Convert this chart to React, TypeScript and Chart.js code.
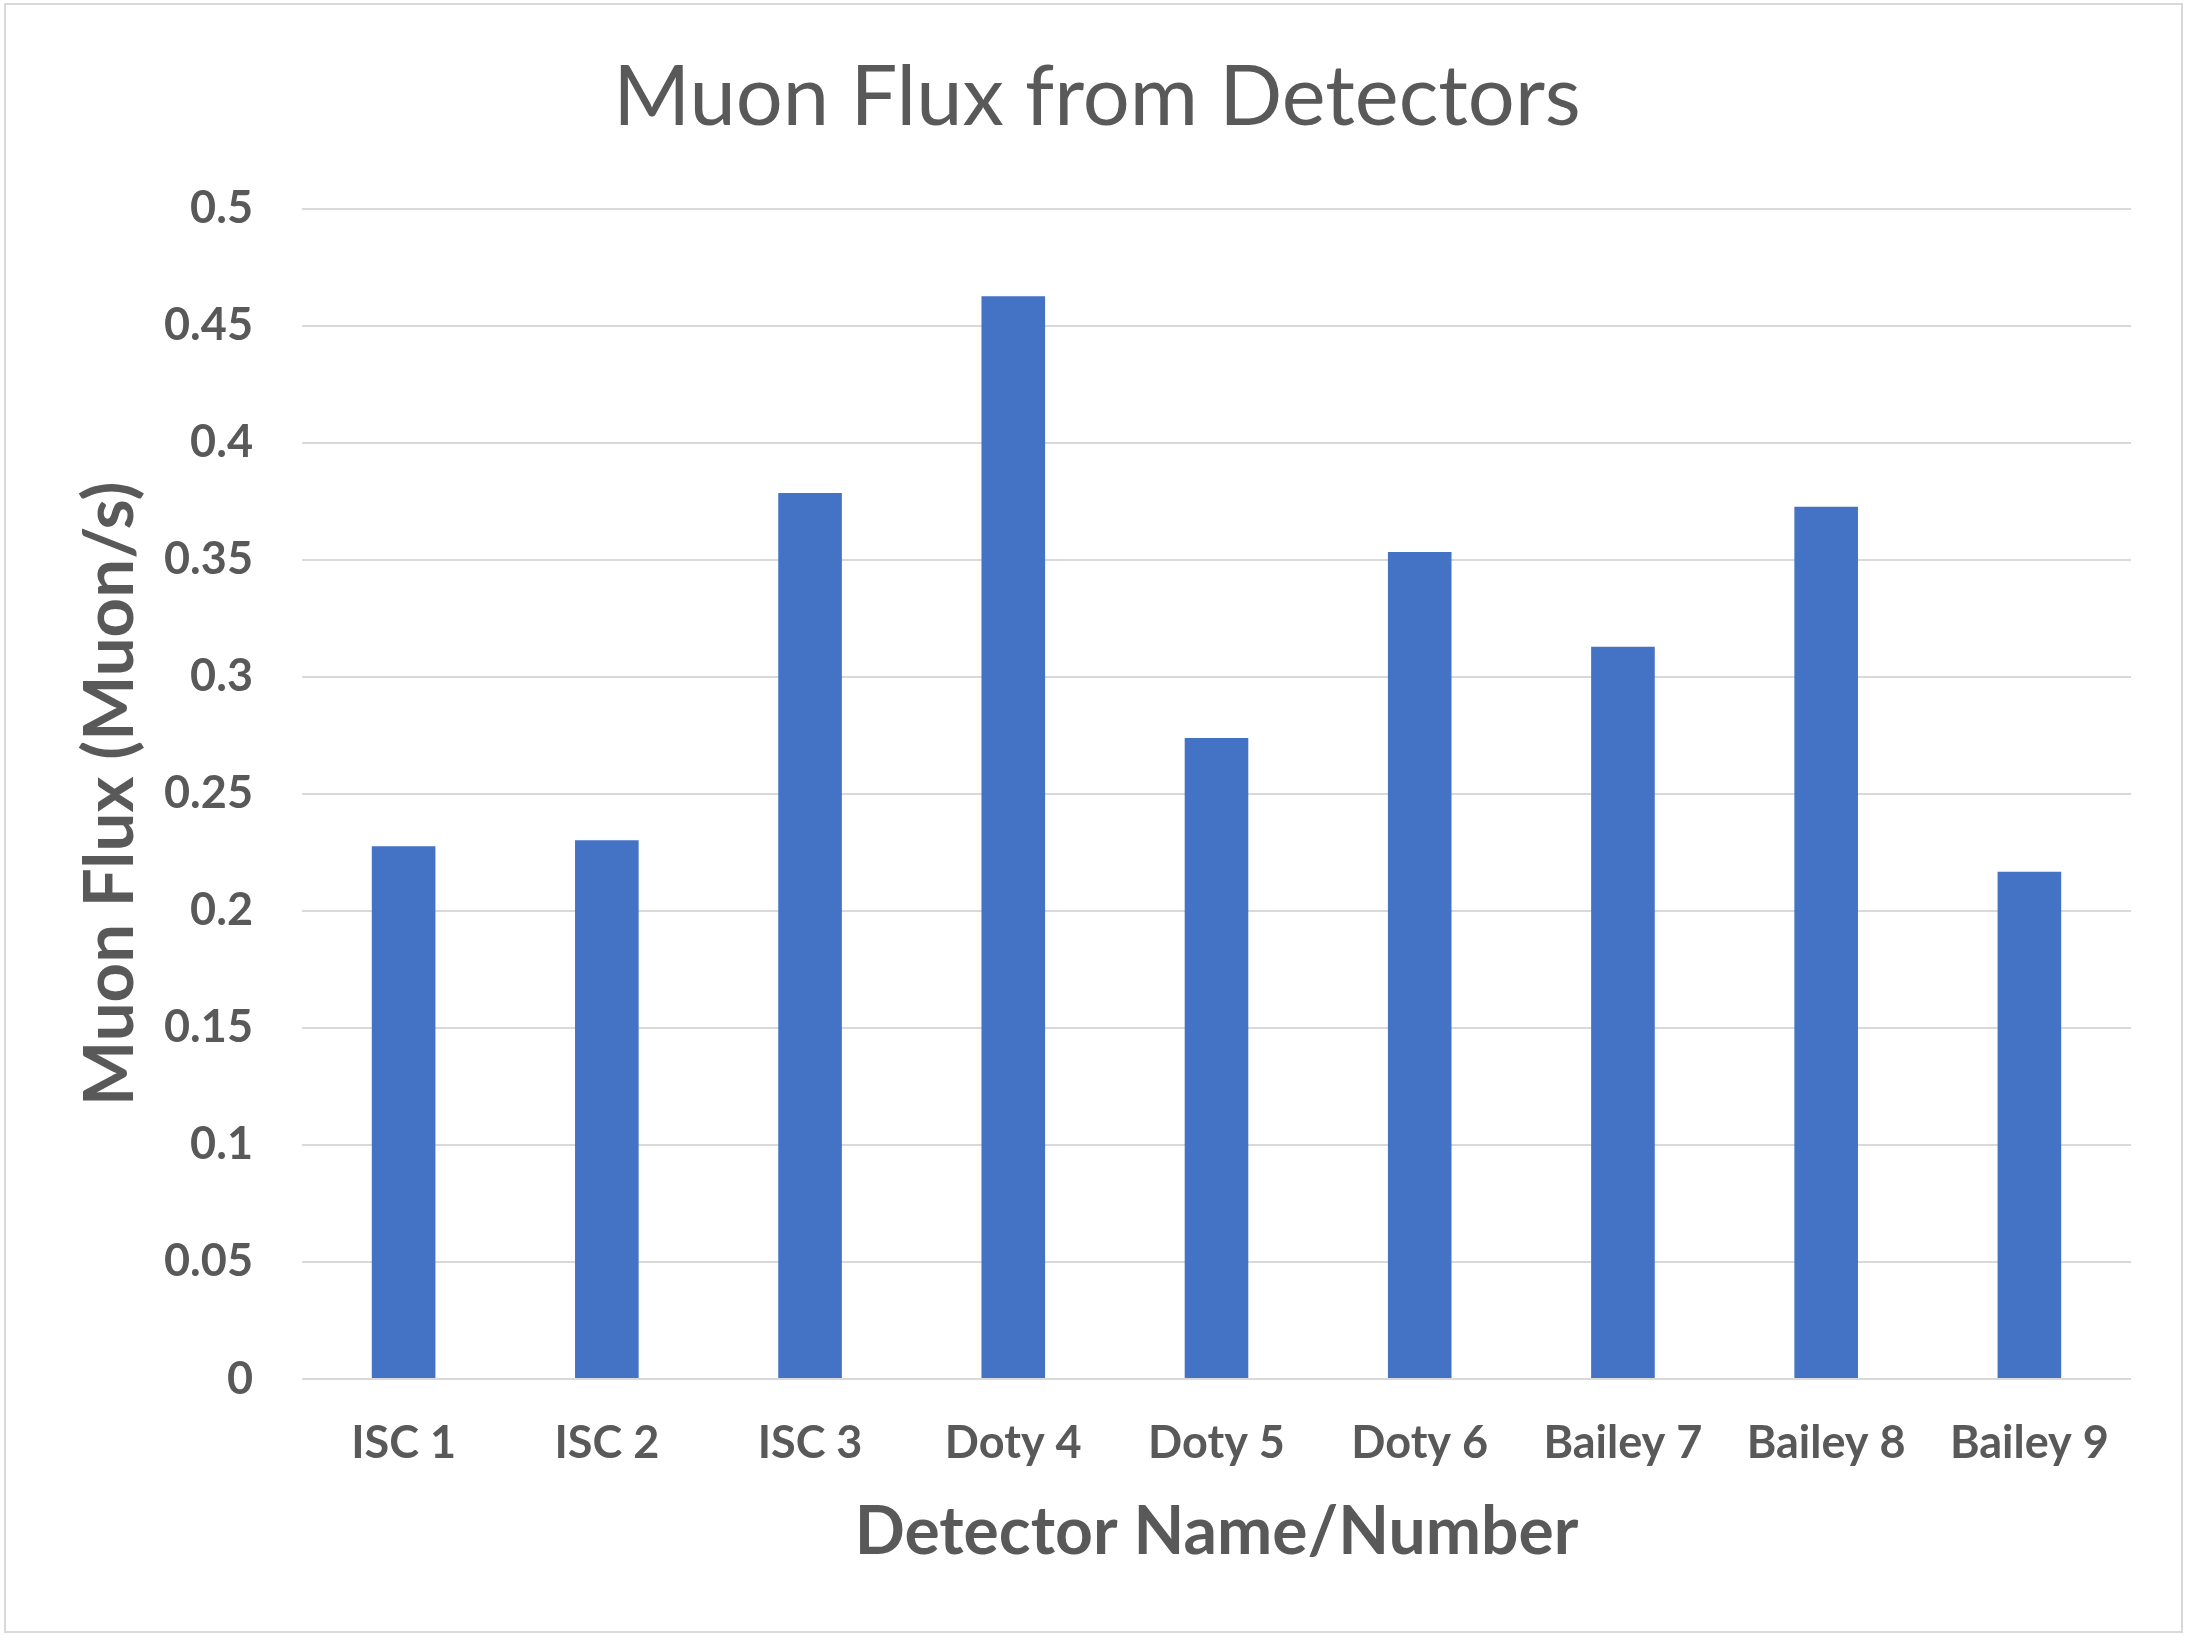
import { useEffect, useRef } from 'react';
import { Chart, registerables } from 'chart.js';

Chart.register(...registerables);

const detectors = ['ISC 1', 'ISC 2', 'ISC 3', 'Doty 4', 'Doty 5', 'Doty 6', 'Bailey 7', 'Bailey 8', 'Bailey 9'];
const muonFlux = [0.2276, 0.2302, 0.3785, 0.4626, 0.2738, 0.3533, 0.3128, 0.3726, 0.2167];
const yTicks = [0, 0.05, 0.1, 0.15, 0.2, 0.25, 0.3, 0.35, 0.4, 0.45, 0.5];

const chartTitle = 'Muon Flux from Detectors';
const xTitle = 'Detector Name/Number';
const yTitle = 'Muon Flux (Muon/s)';

const W = 2190;
const H = 1640;
const TEXT = '#595959';
const GRID = '#D9D9D9';
const FONT = "Lato, 'Open Sans', sans-serif";

export default function App() {
  const canvasRef = useRef<HTMLCanvasElement>(null);
  const chartRef = useRef<Chart | null>(null);

  useEffect(() => {
    document.body.style.margin = '0';
    if (!canvasRef.current) return;
    const ctx = canvasRef.current.getContext('2d');
    if (!ctx) return;

    if (chartRef.current) chartRef.current.destroy();

    chartRef.current = new Chart(ctx, {
      type: 'bar',
      data: {
        labels: detectors,
        datasets: [
          {
            label: 'Muon Flux',
            data: muonFlux,
            backgroundColor: '#4472C4',
            borderWidth: 0,
            barPercentage: 0.313,
            categoryPercentage: 1
          }
        ]
      },
      options: {
        responsive: false,
        animation: false,
        devicePixelRatio: 1,
        layout: {
          // left padding shifts the centred title to match the reference
          padding: { left: 63, right: 59, top: 0, bottom: 0 }
        },
        plugins: {
          legend: { display: false },
          tooltip: { enabled: false },
          title: {
            display: true,
            text: chartTitle,
            color: TEXT,
            font: { family: FONT, size: 83, weight: 'normal' },
            padding: { top: 48, bottom: 61 }
          }
        },
        scales: {
          x: {
            grid: { display: false },
            border: { display: false },
            ticks: {
              color: TEXT,
              font: { family: FONT, size: 45, weight: 'bold' },
              padding: 29,
              maxRotation: 0,
              autoSkip: false
            },
            title: {
              display: true,
              text: xTitle,
              color: TEXT,
              font: { family: FONT, size: 66, weight: 'bold' },
              padding: { top: 0, bottom: 68 }
            },
            afterFit: (scale: any) => {
              scale.height = 261;
            }
          },
          y: {
            min: 0,
            max: 0.5,
            afterBuildTicks: (scale: any) => {
              scale.ticks = yTicks.map(v => ({ value: v }));
            },
            grid: {
              color: GRID,
              lineWidth: 2,
              drawTicks: false
            },
            border: { display: false },
            ticks: {
              color: TEXT,
              font: { family: FONT, size: 45, weight: 'bold' },
              padding: 49,
              callback: (v: any) => String(Math.round(Number(v) * 100) / 100)
            },
            title: {
              display: true,
              text: yTitle,
              color: TEXT,
              font: { family: FONT, size: 69, weight: 'bold' },
              padding: { top: 6, bottom: 0 }
            },
            afterFit: (scale: any) => {
              scale.width = 239;
            }
          }
        }
      }
    });

    return () => {
      if (chartRef.current) {
        chartRef.current.destroy();
        chartRef.current = null;
      }
    };
  }, []);

  return (
    <div style={{ position: 'absolute', left: 0, top: 0, width: W, height: H, background: '#fff' }}>
      <canvas
        ref={canvasRef}
        width={W}
        height={H}
        style={{ position: 'absolute', left: 0, top: 0, width: W, height: H }}
        role="img"
        aria-label="Bar chart of muon flux for nine detectors."
      />
      <div
        style={{
          position: 'absolute',
          left: 4,
          top: 3,
          width: 2179,
          height: 1630,
          border: `2px solid ${GRID}`,
          boxSizing: 'border-box',
          pointerEvents: 'none'
        }}
      />
    </div>
  );
}
